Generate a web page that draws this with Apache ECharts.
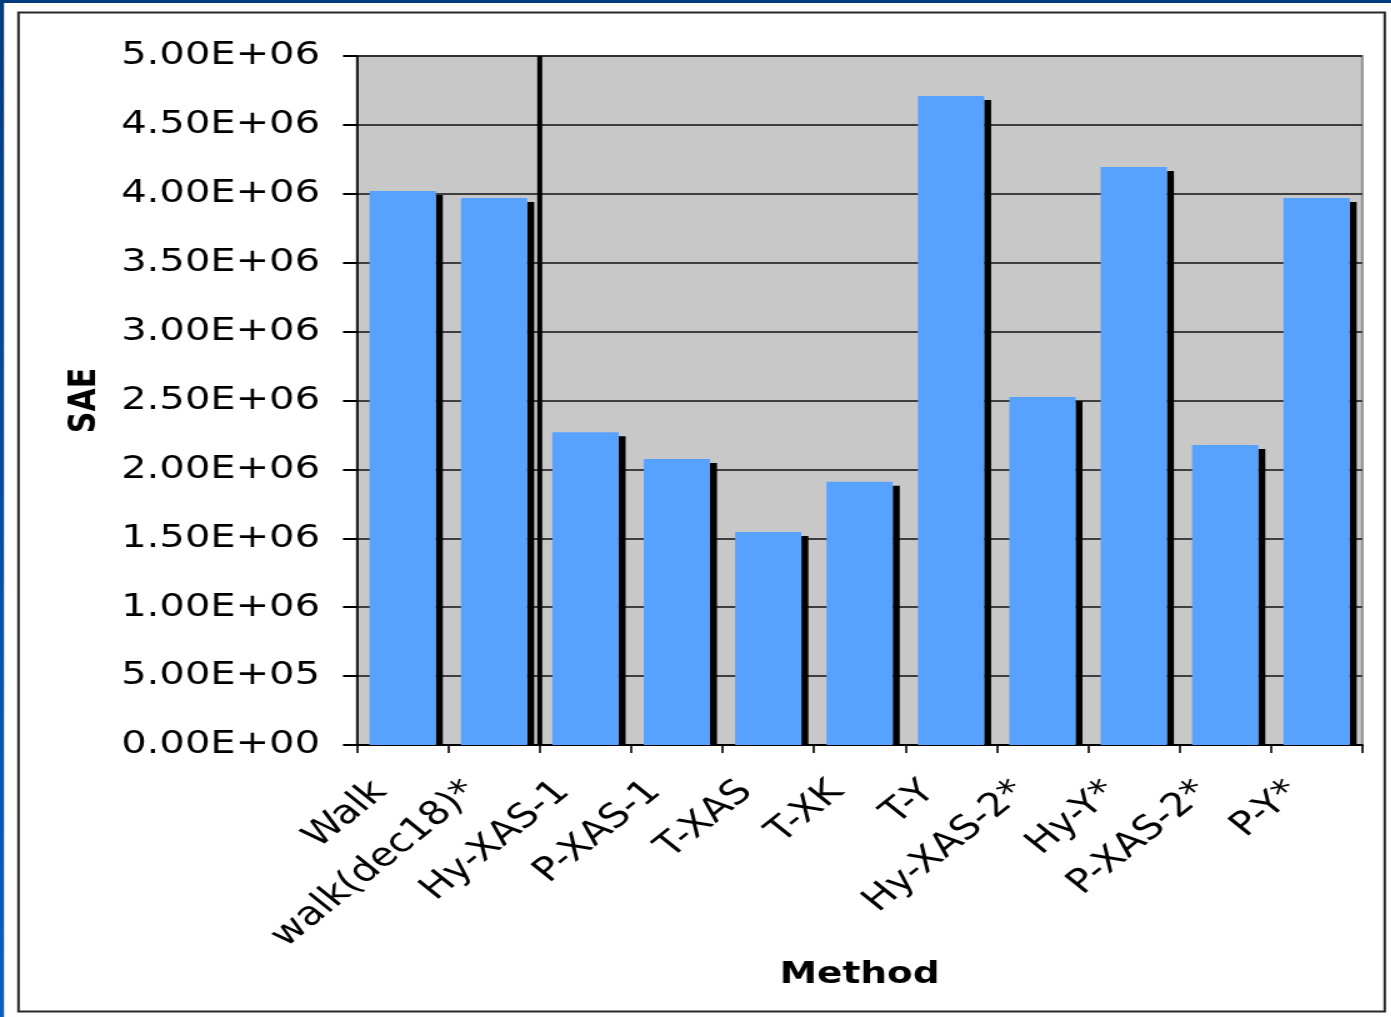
<!DOCTYPE html>
<html>
<head>
<meta charset="utf-8">
<title>SAE by Method</title>
<script src="https://cdn.jsdelivr.net/npm/echarts@6/dist/echarts.min.js"></script>
<style>
  html, body { margin: 0; padding: 0; background: #ffffff; overflow: hidden; }
  /* the chart is laid out narrower and widened horizontally to fill the page */
  #chart { width: 1113px; height: 1017px; transform: scaleX(1.25); transform-origin: 0 0; }
</style>
</head>
<body>
<div id="chart"></div>
<script>
// Methods compared, in plotting order
const methods = ['Walk', 'walk(dec18)*', 'Hy-XAS-1', 'P-XAS-1', 'T-XAS', 'T-XK',
                 'T-Y', 'Hy-XAS-2*', 'Hy-Y*', 'P-XAS-2*', 'P-Y*'];
// Sum of absolute errors for each method
const sae = [4.02e6, 3.97e6, 2.27e6, 2.075e6, 1.545e6, 1.91e6,
             4.71e6, 2.525e6, 4.195e6, 2.177e6, 3.97e6];
// Value-axis tick labels (0 .. 5e6 step 5e5)
const yTickValues = [0, 5e5, 1e6, 1.5e6, 2e6, 2.5e6, 3e6, 3.5e6, 4e6, 4.5e6, 5e6];
const yTickLabels = ['0.00E+00', '5.00E+05', '1.00E+06', '1.50E+06', '2.00E+06', '2.50E+06',
                     '3.00E+06', '3.50E+06', '4.00E+06', '4.50E+06', '5.00E+06'];
// Index of the category after which the group separator is drawn
const separatorAfter = 1;

const FONT = 'DejaVu Sans';
const BAR_W = 53;
const SHADOW_W = 5.6;
const SHADOW_DROP = 4;

const chart = echarts.init(document.getElementById('chart'), null, { renderer: 'canvas' });

const option = {
  backgroundColor: '#ffffff',
  animation: false,
  graphic: [
    // window frame: blue strips on top and left
    { type: 'rect', shape: { x: 0, y: 0, width: 1113, height: 3 },
      style: { fill: '#003C7E' }, z: 100 },
    { type: 'rect', shape: { x: 0, y: 0, width: 3.2, height: 1017 },
      style: { fill: new echarts.graphic.LinearGradient(0, 0, 0, 1, [
        { offset: 0, color: '#003C7E' }, { offset: 1, color: '#0A5EC6' }]) }, z: 100 },
    // chart border
    { type: 'rect', shape: { x: 14.8, y: 12.5, width: 1093, height: 999 },
      style: { fill: null, stroke: '#262626', lineWidth: 2 }, z: 100 }
  ],
  grid: {
    left: 285.6, right: 23.2, top: 56, bottom: 272,
    show: true, backgroundColor: '#C8C8C8', borderColor: '#8F8F8F', borderWidth: 2
  },
  xAxis: {
    type: 'category',
    data: methods,
    name: 'Method',
    nameLocation: 'middle',
    nameGap: 197,
    nameTextStyle: { fontFamily: FONT, fontSize: 30, fontWeight: 'bold', color: '#000' },
    axisLine: { show: true, lineStyle: { color: '#000', width: 2 } },
    axisTick: { show: true, length: 8, lineStyle: { color: '#000', width: 1.6 } },
    axisLabel: {
      interval: 0, rotate: 45, margin: 24,
      padding: [0, 25, 0, 0],
      fontFamily: FONT, fontSize: 33, color: '#000'
    },
    splitLine: { show: false }
  },
  yAxis: {
    type: 'value',
    min: 0, max: 5e6, interval: 5e5,
    name: 'SAE',
    nameLocation: 'middle',
    nameRotate: 90,
    nameGap: 202,
    nameTextStyle: { fontFamily: FONT, fontSize: 30, fontWeight: 'bold', color: '#000' },
    axisLine: { show: true, lineStyle: { color: '#000', width: 1.6 } },
    axisTick: { show: true, length: 11.2, lineStyle: { color: '#000', width: 2 } },
    axisLabel: {
      margin: 29.6, fontFamily: FONT, fontSize: 32, color: '#000',
      padding: [6, 0, 0, 0],
      formatter: function (v) {
        const i = yTickValues.indexOf(v);
        return i >= 0 ? yTickLabels[i] : '';
      }
    },
    splitLine: { show: true, lineStyle: { color: '#111', width: 1.5 } }
  },
  series: [
    {
      name: 'SAE',
      type: 'bar',
      data: sae,
      barWidth: BAR_W,
      itemStyle: { color: '#58A2FF' },
      z: 3
    },
    {
      // dark drop shadow on the right side of each bar
      name: 'shadow',
      type: 'custom',
      data: sae.map((v, i) => [i, v]),
      z: 2,
      silent: true,
      renderItem: function (params, api) {
        const top = api.coord([api.value(0), api.value(1)]);
        const base = api.coord([api.value(0), 0]);
        const x = top[0] + BAR_W / 2;
        const y = top[1] + SHADOW_DROP;
        return {
          type: 'rect',
          shape: { x: x, y: y, width: SHADOW_W, height: base[1] - y },
          style: { fill: '#000' }
        };
      }
    },
    {
      // vertical separator between the first two methods and the rest
      name: 'separator',
      type: 'custom',
      data: [[separatorAfter, 5e6]],
      z: 4,
      silent: true,
      renderItem: function (params, api) {
        const c = api.coord([api.value(0), api.value(1)]);
        const base = api.coord([api.value(0), 0]);
        const bw = api.size([1, 0])[0];
        const x = c[0] + bw / 2;
        return {
          type: 'rect',
          shape: { x: x - 2, y: c[1], width: 4, height: base[1] - c[1] },
          style: { fill: '#000' }
        };
      }
    }
  ]
};

chart.setOption(option);
</script>
</body>
</html>
